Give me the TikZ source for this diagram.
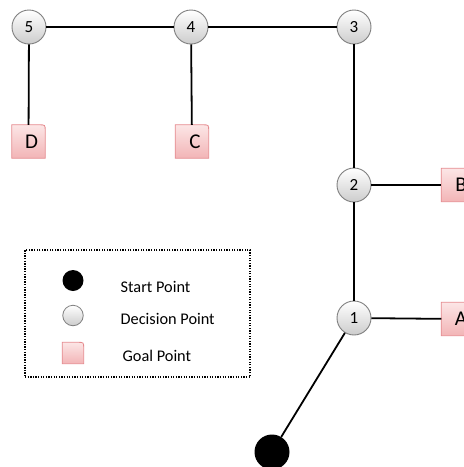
\documentclass[tikz,border=0pt]{standalone}
\usepackage{fontspec}
\setmainfont{Carlito}
\pgfdeclarelayer{background}
\pgfsetlayers{background,main}
\definecolor{goaltop}{HTML}{FCE6E6}
\definecolor{goalbot}{HTML}{F2B4B6}
\definecolor{goalline}{HTML}{E58A8E}
\definecolor{decline}{HTML}{7F7F7F}
\tikzset{
  decision/.style={circle, draw=decline, line width=0.9pt, top color=white, bottom color=black!20,
    minimum size=34pt, inner sep=0pt, font=\fontsize{17}{17}\selectfont},
  goalpt/.style={rectangle, minimum width=33pt, minimum height=33pt, inner sep=0pt,
    font=\fontsize{21}{21}\selectfont},
  goalshape/.style={top color=goaltop, bottom color=goalbot, draw=goalline, line width=0.8pt},
  startpt/.style={circle, fill=black, minimum size=35pt, inner sep=0pt},
  edge/.style={line width=1.8pt, black},
  legtext/.style={anchor=base west, font=\fontsize{16.3}{16.3}\selectfont, inner sep=0pt},
  legbox/.style={line width=1.6pt, dash pattern=on 1.3pt off 1.3pt}
}
\begin{document}
\begin{tikzpicture}[x=1pt,y=-1pt]
\useasboundingbox (0,0) rectangle (464,467);
% decision points
\node[decision] (n5) at (29,27) {5};
\node[decision] (n4) at (191,27) {4};
\node[decision] (n3) at (354,27) {3};
\node[decision] (n2) at (354,185) {2};
\node[decision] (n1) at (354,318) {1};
% start
\node[startpt] (s) at (272,452) {};
% goals
\node[goalpt] (D) at (28.5,141.5) {\hspace*{6pt}D};
\node[goalpt] (C) at (192,141.5) {\hspace*{6pt}C};
\node[goalpt] (B) at (458,185) {\hspace*{6pt}B};
\node[goalpt] (A) at (458,319) {\hspace*{6pt}A};
% legend
\node[legbox, draw, rectangle, minimum width=225pt, minimum height=127pt, inner sep=0pt] (leg) at (137.5,313.5) {};
\node[circle, fill=black, minimum size=21pt, inner sep=0pt] (ls) at (73,280.5) {};
\node[circle, draw=decline, line width=0.8pt, top color=white, bottom color=black!20, minimum size=20.5pt, inner sep=0pt] (ld) at (73,315.5) {};
\node[rectangle, minimum width=21pt, minimum height=21pt, inner sep=0pt] (lg) at (73,353) {};
\node[legtext] (ts) at (120.5,292.5) {Start Point};
\node[legtext] (td) at (120.5,324.5) {Decision Point};
\node[legtext] (tg) at (122.5,361.5) {Goal Point};
% goal shapes
\begin{pgfonlayer}{background}
\foreach \g in {A,B,C,D,lg}{
  \shade[goalshape] (\g.south west) -- (\g.north west) -- ([xshift=-6pt]\g.north east)
    .. controls (\g.north east) .. ([yshift=-6pt]\g.north east) -- (\g.south east) -- cycle;
}
\end{pgfonlayer}
% connectors
\draw[edge] (n5) -- (n4);
\draw[edge] (n4) -- (n3);
\draw[edge] (n3) -- (n2);
\draw[edge] (n2) -- (n1);
\draw[edge] (n5) -- (D);
\draw[edge] (n4) -- (C);
\draw[edge] (n2) -- (B);
\draw[edge] (n1) -- (A);
\draw[edge] (n1) -- (s);
\end{tikzpicture}
\end{document}
